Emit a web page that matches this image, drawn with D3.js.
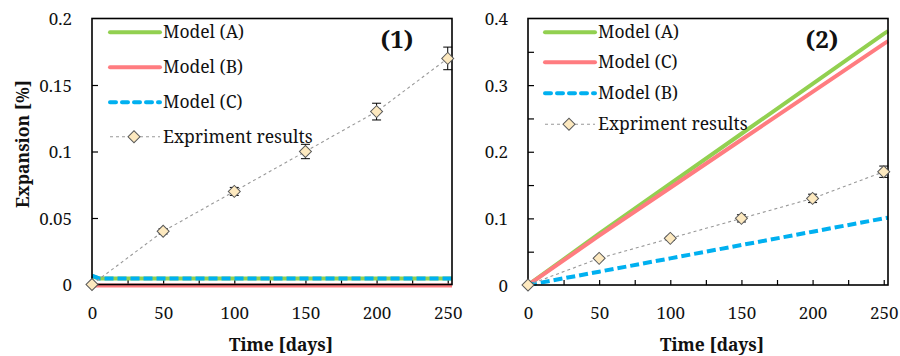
<!DOCTYPE html>
<html><head><meta charset="utf-8">
<script src="https://cdn.jsdelivr.net/npm/d3@7"></script>
<style>
html,body{margin:0;padding:0;background:#fff;}
</style></head>
<body><svg id="chart" width="900" height="356"></svg>
<script>
// ---------- data ----------
const expDays = [0, 50, 100, 150, 200, 250];
const expValues = [0, 0.04, 0.07, 0.10, 0.13, 0.17];
const expErrors = [0, 0.002, 0.003, 0.0054, 0.0063, 0.0085];

const modelDays = [0, 5, 50, 100, 150, 200, 250, 253];
// panel (1)
const p1ModelA = [0.0062, 0.0046, 0.0045, 0.0045, 0.0045, 0.0045, 0.0045, 0.0045];
const p1ModelB = [-0.0008, -0.0008, -0.0008, -0.0008, -0.0008, -0.0008, -0.0008, -0.0008];
const p1ModelC = [0.0066, 0.0046, 0.0045, 0.0045, 0.0045, 0.0045, 0.0045, 0.0045];
// panel (2)
const p2ModelA = [0, 0.0076, 0.077, 0.152, 0.227, 0.302, 0.377, 0.381];
const p2ModelC = [0, 0.0073, 0.074, 0.146, 0.218, 0.290, 0.362, 0.366];
const p2ModelB = [0, 0.002, 0.020, 0.040, 0.060, 0.080, 0.100, 0.101];

const xTickLabels = [0, 50, 100, 150, 200, 250];
const p1YTicks = [0, 0.05, 0.1, 0.15, 0.2];
const p2YTicks = [0, 0.1, 0.2, 0.3, 0.4];

const p1Legend = ["Model (A)", "Model (B)", "Model (C)", "Expriment results"];
const p2Legend = ["Model (A)", "Model (C)", "Model (B)", "Expriment results"];

const GREEN = "#92d050", RED = "#ff7c80", BLUE = "#00b0f0";
const FONT = "Noto Serif, Liberation Serif, serif";

const svg = d3.select("#chart").attr("font-family", FONT);

function panel(cfg) {
  const x = d3.scaleLinear().domain([0, 253]).range([cfg.left, cfg.right]);
  const y = d3.scaleLinear().domain([0, cfg.yMax]).range([cfg.bottom, cfg.top]);
  const g = svg.append("g").attr("font-family", FONT);

  const xt = d3.range(0, 251, 25);
  g.append("g").attr("transform", `translate(0,${cfg.bottom})`)
    .call(d3.axisBottom(x).tickValues(xt).tickSizeInner(-5).tickSizeOuter(0).tickFormat(""))
    .call(a => a.select(".domain").remove())
    .call(a => a.selectAll("line").attr("stroke", "#000").attr("stroke-width", 1.2));
  g.append("g").attr("transform", `translate(${cfg.left},0)`)
    .call(d3.axisLeft(y).tickValues(cfg.yMinor).tickSizeInner(-6).tickSizeOuter(0).tickFormat(""))
    .call(a => a.select(".domain").remove())
    .call(a => a.selectAll("line").attr("stroke", "#000").attr("stroke-width", 1.2));

  g.append("g").attr("transform", `translate(0,${cfg.bottom})`)
    .call(d3.axisBottom(x).tickValues(xTickLabels).tickSize(0).tickPadding(0).tickFormat(d3.format("d")))
    .attr("font-family", FONT)
    .call(a => a.select(".domain").remove())
    .call(a => a.selectAll("text").attr("font-family", FONT).attr("font-size", 17)
      .attr("fill", "#111").attr("dy", null).attr("y", 34));
  g.append("g").attr("transform", `translate(${cfg.left},0)`)
    .call(d3.axisLeft(y).tickValues(cfg.yTicks).tickSize(0).tickPadding(20).tickFormat(d => String(d)))
    .attr("font-family", FONT)
    .call(a => a.select(".domain").remove())
    .call(a => a.selectAll("text").attr("font-family", FONT).attr("font-size", 17)
      .attr("fill", "#111").attr("dy", "0.36em"));

  const line = d3.line().x((d, i) => x(modelDays[i])).y(d => y(d));
  cfg.models.forEach(m => {
    g.append("path").attr("d", line(m.values)).attr("fill", "none")
      .attr("stroke", m.color).attr("stroke-width", 4)
      .attr("stroke-dasharray", m.dash ? "9,4" : null);
  });

  g.append("rect").attr("x", cfg.left).attr("y", cfg.top)
    .attr("width", cfg.right - cfg.left).attr("height", cfg.bottom - cfg.top)
    .attr("fill", "none").attr("stroke", "#000").attr("stroke-width", 1.6);

  const eline = d3.line().x((d, i) => x(expDays[i])).y(d => y(d));
  g.append("path").attr("d", eline(expValues)).attr("fill", "none")
    .attr("stroke", "#999").attr("stroke-width", 1.1).attr("stroke-dasharray", "3,3");
  expValues.forEach((v, i) => {
    const e = expErrors[i];
    if (e > 0) {
      const cx = x(expDays[i]);
      g.append("line").attr("x1", cx).attr("x2", cx).attr("y1", y(v - e)).attr("y2", y(v + e))
        .attr("stroke", "#000").attr("stroke-width", 1);
      [v - e, v + e].forEach(w => g.append("line").attr("x1", cx - 4.5).attr("x2", cx + 4.5)
        .attr("y1", y(w)).attr("y2", y(w)).attr("stroke", "#000").attr("stroke-width", 1));
    }
  });
  const diamond = d3.symbol().type(d3.symbolSquare).size(72);
  g.selectAll(".mk").data(expValues).enter().append("path")
    .attr("d", diamond())
    .attr("transform", (d, i) => `translate(${x(expDays[i])},${y(d)}) rotate(45)`)
    .attr("fill", "#fde9bf").attr("stroke", "#595959").attr("stroke-width", 1);

  const lg = g.append("g");
  cfg.legend.forEach((name, i) => {
    const ly = cfg.legY[i];
    if (i < 3) {
      const m = cfg.models.find(mm => mm.name === name);
      lg.append("line").attr("x1", cfg.legX).attr("x2", cfg.legX + 50).attr("y1", ly).attr("y2", ly)
        .attr("stroke", m.color).attr("stroke-width", 4).attr("stroke-linecap", "round")
        .attr("stroke-dasharray", m.dash ? "6,6" : null);
    } else {
      lg.append("line").attr("x1", cfg.legX).attr("x2", cfg.legX + 50).attr("y1", ly).attr("y2", ly)
        .attr("stroke", "#999").attr("stroke-width", 1.1).attr("stroke-dasharray", "3,3");
      lg.append("path").attr("d", diamond())
        .attr("transform", `translate(${cfg.legX + 24},${ly}) rotate(45)`)
        .attr("fill", "#fde9bf").attr("stroke", "#595959").attr("stroke-width", 1);
    }
    lg.append("text").attr("x", cfg.legX + 53).attr("y", ly + 6).attr("font-family", FONT)
      .attr("font-size", 17.5).attr("fill", "#111").text(name);
  });

  g.append("text").attr("x", cfg.labX).attr("y", 48).attr("font-size", 24).attr("font-family", FONT)
    .attr("font-weight", "bold").attr("fill", "#111").attr("text-anchor", "middle").text(cfg.label);

  g.append("text").attr("x", cfg.titleX).attr("y", 351).attr("font-size", 17.5).attr("font-family", FONT)
    .attr("font-weight", "bold").attr("fill", "#111").attr("text-anchor", "middle").text("Time [days]");
}

panel({
  left: 92, right: 452, top: 18.5, bottom: 284.5, yMax: 0.2,
  yTicks: p1YTicks, yMinor: [0.05, 0.1, 0.15],
  models: [
    {name: "Model (A)", values: p1ModelA, color: GREEN},
    {name: "Model (B)", values: p1ModelB, color: RED},
    {name: "Model (C)", values: p1ModelC, color: BLUE, dash: true}
  ],
  legend: p1Legend, legX: 110, legY: [32.3, 67.3, 102.3, 136.7],
  label: "(1)", labX: 397, titleX: 281
});
panel({
  left: 528, right: 888, top: 18.5, bottom: 285, yMax: 0.4,
  yTicks: p2YTicks, yMinor: [0.05, 0.1, 0.15, 0.2, 0.25, 0.3, 0.35],
  models: [
    {name: "Model (A)", values: p2ModelA, color: GREEN},
    {name: "Model (C)", values: p2ModelC, color: RED},
    {name: "Model (B)", values: p2ModelB, color: BLUE, dash: true}
  ],
  legend: p2Legend, legX: 545, legY: [32.3, 62.3, 93.3, 124.3],
  label: "(2)", labX: 822, titleX: 712
});

svg.append("text").attr("transform", "translate(29,144) rotate(-90)").attr("font-family", FONT)
  .attr("font-size", 17.5).attr("font-weight", "bold").attr("fill", "#111")
  .attr("text-anchor", "middle").text("Expansion [%]");
</script></body></html>
